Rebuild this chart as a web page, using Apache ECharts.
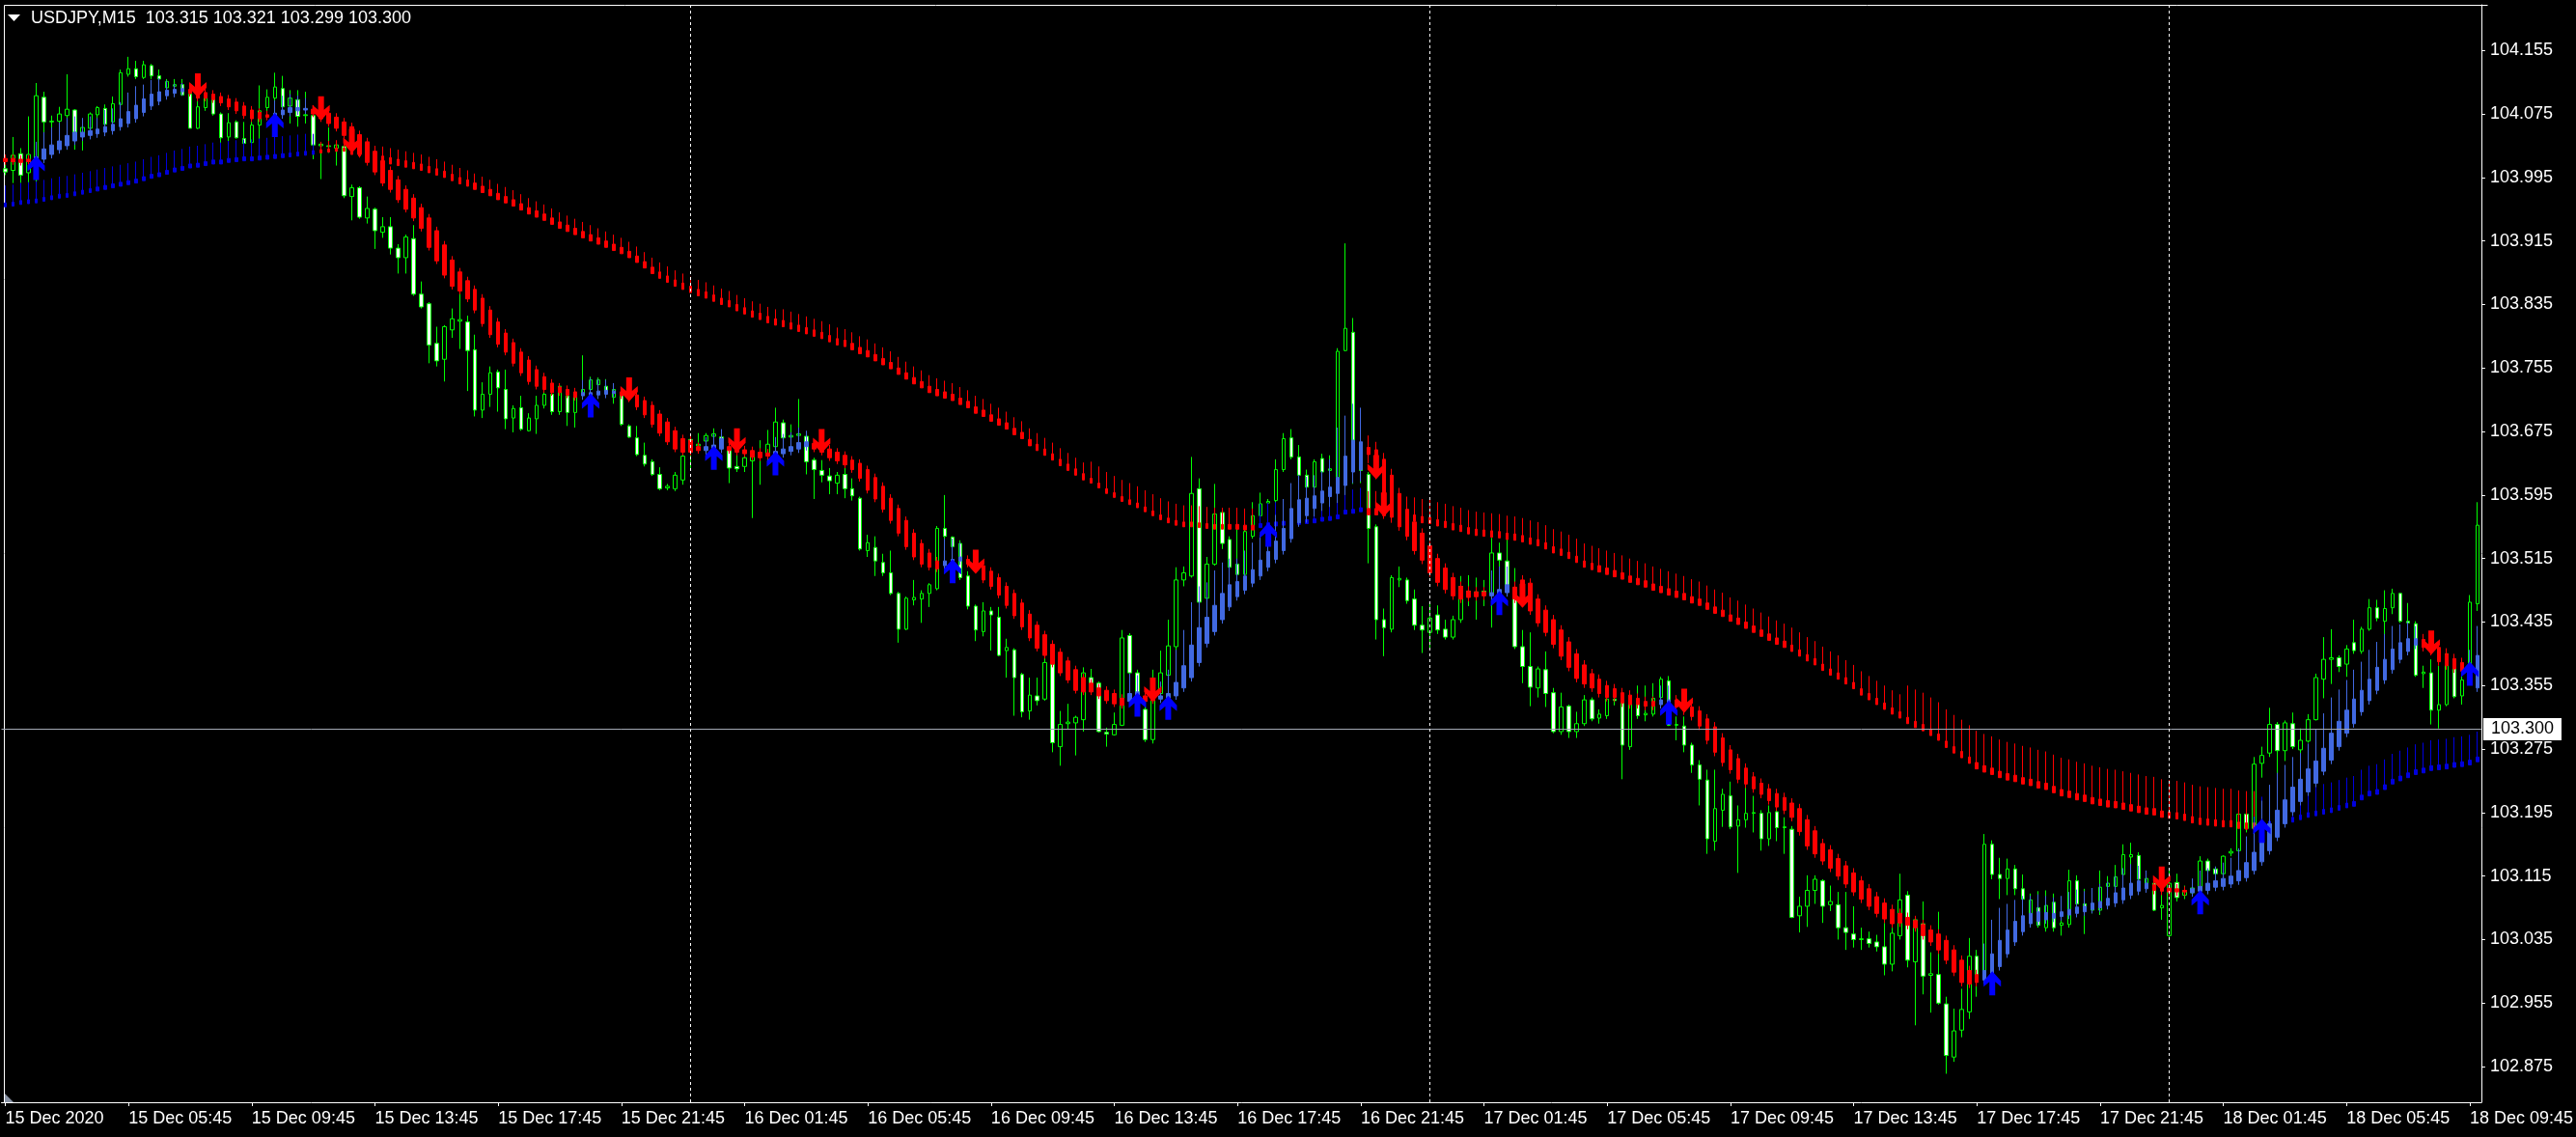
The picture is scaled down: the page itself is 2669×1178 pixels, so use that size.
<!DOCTYPE html>
<html><head><meta charset="utf-8">
<script src="https://cdn.jsdelivr.net/npm/echarts@6/dist/echarts.min.js"></script>
<style>html,body{margin:0;padding:0;background:#000;overflow:hidden}#c{width:2669px;height:1178px}</style>
</head><body><div id="c"></div>
<script>
// ---------------- DATA ----------------
const symbolName = 'USDJPY,M15';
const titleQuote = '103.315 103.321 103.299 103.300';
const bidPrice = 103.300;
const priceTicks = [102.875,102.955,103.035,103.115,103.195,103.275,103.355,103.435,103.515,103.595,103.675,103.755,103.835,103.915,103.995,104.075,104.155];
const xTickLabels = ['15 Dec 2020','15 Dec 05:45','15 Dec 09:45','15 Dec 13:45','15 Dec 17:45','15 Dec 21:45','16 Dec 01:45','16 Dec 05:45','16 Dec 09:45','16 Dec 13:45','16 Dec 17:45','16 Dec 21:45','17 Dec 01:45','17 Dec 05:45','17 Dec 09:45','17 Dec 13:45','17 Dec 17:45','17 Dec 21:45','18 Dec 01:45','18 Dec 05:45','18 Dec 09:45'];
const daySeparators = ['16 Dec 00:00','17 Dec 00:00','18 Dec 00:00'];

// price bars: [open, high, low, close], M15 from 15 Dec 01:45
const candles = [
[104.006,104.012,103.998,104.002],[104.004,104.046,103.988,104.023],[104.025,104.032,103.988,103.998],[104.001,104.072,103.986,104.024],[104.016,104.114,103.980,104.098],
[104.096,104.103,104.048,104.065],[104.065,104.073,104.048,104.066],[104.066,104.084,104.063,104.075],[104.073,104.125,104.030,104.081],[104.080,104.081,104.030,104.052],
[104.050,104.065,104.029,104.058],[104.057,104.077,104.048,104.075],[104.074,104.085,104.052,104.083],[104.082,104.087,104.052,104.062],[104.065,104.097,104.063,104.088],
[104.087,104.131,104.085,104.127],[104.125,104.147,104.122,104.132],[104.132,104.142,104.119,104.122],[104.121,104.142,104.119,104.137],[104.136,104.138,104.119,104.123],
[104.123,104.131,104.113,104.119],[104.108,104.119,104.105,104.116],[104.110,104.119,104.101,104.112],[104.112,104.119,104.098,104.099],[104.100,104.103,104.057,104.057],
[104.057,104.101,104.056,104.084],[104.083,104.103,104.079,104.095],[104.095,104.103,104.073,104.075],[104.075,104.077,104.036,104.045],[104.046,104.076,104.041,104.064],
[104.065,104.067,104.044,104.045],[104.044,104.065,104.036,104.038],[104.039,104.066,104.036,104.061],[104.061,104.111,104.040,104.079],[104.083,104.106,104.073,104.096],
[104.095,104.127,104.075,104.109],[104.107,104.123,104.069,104.084],[104.085,104.105,104.063,104.095],[104.093,104.105,104.059,104.072],[104.073,104.103,104.063,104.074],
[104.073,104.075,104.018,104.036],[104.035,104.038,103.993,104.037],[104.034,104.058,104.026,104.035],[104.032,104.040,104.010,104.036],[104.034,104.036,103.969,103.972],
[103.971,103.986,103.941,103.982],[103.982,103.984,103.943,103.945],[103.944,103.971,103.937,103.956],[103.955,103.957,103.905,103.928],[103.926,103.945,103.919,103.933],
[103.933,103.945,103.898,103.906],[103.906,103.911,103.874,103.894],[103.894,103.923,103.874,103.920],[103.918,103.935,103.846,103.848],[103.848,103.864,103.830,103.832],
[103.836,103.838,103.761,103.784],[103.786,103.807,103.757,103.764],[103.766,103.809,103.738,103.807],[103.803,103.830,103.793,103.817],[103.814,103.850,103.779,103.816],
[103.813,103.821,103.726,103.777],[103.778,103.797,103.694,103.702],[103.702,103.737,103.692,103.722],[103.722,103.757,103.706,103.749],[103.750,103.753,103.700,103.730],
[103.728,103.753,103.678,103.691],[103.692,103.708,103.674,103.704],[103.705,103.720,103.676,103.678],[103.676,103.698,103.675,103.692],[103.691,103.720,103.672,103.708],
[103.708,103.728,103.704,103.722],[103.722,103.734,103.696,103.700],[103.700,103.734,103.696,103.732],[103.720,103.732,103.682,103.699],[103.699,103.728,103.680,103.724],
[103.721,103.771,103.720,103.728],[103.728,103.744,103.720,103.740],[103.734,103.743,103.731,103.740],[103.732,103.741,103.720,103.724],[103.718,103.732,103.710,103.728],
[103.724,103.726,103.682,103.684],[103.682,103.684,103.667,103.668],[103.667,103.682,103.644,103.646],[103.645,103.661,103.631,103.634],[103.637,103.640,103.619,103.621],
[103.621,103.630,103.601,103.603],[103.604,103.609,103.601,103.606],[103.603,103.624,103.600,103.620],[103.614,103.647,103.608,103.644],[103.665,103.666,103.629,103.660],
[103.657,103.673,103.652,103.659],[103.663,103.673,103.647,103.670],[103.669,103.679,103.655,103.672],[103.668,103.671,103.652,103.655],[103.653,103.664,103.610,103.629],
[103.631,103.649,103.624,103.628],[103.631,103.647,103.624,103.642],[103.638,103.653,103.566,103.644],[103.644,103.664,103.608,103.646],[103.645,103.677,103.634,103.659],
[103.656,103.705,103.653,103.687],[103.686,103.690,103.653,103.667],[103.668,103.684,103.655,103.670],[103.670,103.716,103.660,103.672],[103.669,103.673,103.621,103.637],
[103.639,103.642,103.590,103.627],[103.626,103.639,103.611,103.620],[103.619,103.629,103.596,103.613],[103.610,103.624,103.596,103.620],[103.621,103.629,103.591,103.603],
[103.603,103.616,103.588,103.594],[103.591,103.593,103.525,103.527],[103.525,103.545,103.517,103.535],[103.529,103.543,103.493,103.512],[103.510,103.521,103.493,103.497],
[103.497,103.525,103.469,103.471],[103.471,103.473,103.409,103.426],[103.426,103.467,103.425,103.465],[103.463,103.488,103.456,103.466],[103.464,103.475,103.434,103.471],
[103.471,103.484,103.454,103.482],[103.477,103.556,103.475,103.553],[103.553,103.595,103.521,103.543],[103.542,103.543,103.508,103.530],[103.534,103.538,103.488,103.491],
[103.493,103.499,103.451,103.455],[103.455,103.457,103.411,103.425],[103.423,103.460,103.417,103.449],[103.449,103.454,103.399,103.444],[103.441,103.454,103.392,103.393],
[103.399,103.414,103.365,103.403],[103.400,103.402,103.317,103.365],[103.369,103.371,103.315,103.322],[103.323,103.365,103.312,103.343],[103.342,103.365,103.330,103.336],
[103.338,103.393,103.336,103.384],[103.382,103.388,103.271,103.283],[103.278,103.323,103.254,103.306],[103.307,103.332,103.300,103.309],[103.308,103.317,103.267,103.315],
[103.312,103.378,103.297,103.371],[103.365,103.376,103.347,103.355],[103.358,103.360,103.296,103.297],[103.296,103.302,103.278,103.294],[103.293,103.321,103.292,103.306],
[103.305,103.425,103.304,103.415],[103.418,103.421,103.369,103.371],[103.371,103.375,103.322,103.326],[103.325,103.330,103.284,103.287],[103.287,103.375,103.282,103.345],
[103.345,103.399,103.338,103.371],[103.368,103.438,103.360,103.405],[103.404,103.504,103.347,103.488],[103.488,103.505,103.480,103.497],[103.493,103.643,103.491,103.597],
[103.603,103.616,103.456,103.460],[103.465,103.517,103.460,103.508],[103.508,103.609,103.506,103.571],[103.573,103.577,103.527,103.534],[103.539,103.543,103.502,103.504],
[103.508,103.556,103.493,103.495],[103.495,103.556,103.493,103.549],[103.543,103.586,103.540,103.569],[103.569,103.598,103.567,103.584],[103.585,103.590,103.577,103.587],
[103.588,103.640,103.576,103.627],[103.627,103.673,103.624,103.666],[103.667,103.678,103.640,103.643],[103.643,103.658,103.612,103.620],[103.620,103.627,103.603,103.605],
[103.605,103.640,103.603,103.637],[103.641,103.647,103.621,103.624],[103.626,103.645,103.609,103.628],[103.617,103.780,103.615,103.776],[103.777,103.912,103.776,103.805],
[103.800,103.818,103.609,103.664],[103.643,103.652,103.610,103.626],[103.621,103.624,103.509,103.553],[103.555,103.558,103.413,103.438],[103.438,103.452,103.392,103.428],
[103.426,103.494,103.422,103.491],[103.488,103.505,103.479,103.490],[103.488,103.491,103.458,103.462],[103.464,103.476,103.425,103.431],[103.431,103.455,103.396,103.425],
[103.422,103.461,103.401,103.440],[103.444,103.456,103.420,103.425],[103.426,103.438,103.413,103.416],[103.416,103.443,103.413,103.438],[103.438,103.493,103.434,103.480],
[103.474,103.494,103.455,103.471],[103.468,103.491,103.438,103.473],[103.474,103.488,103.455,103.470],[103.470,103.541,103.428,103.522],[103.522,103.535,103.500,103.513],
[103.512,103.540,103.470,103.476],[103.478,103.503,103.401,103.404],[103.404,103.425,103.358,103.379],[103.379,103.422,103.329,103.353],[103.352,103.379,103.340,103.376],
[103.375,103.398,103.328,103.345],[103.346,103.352,103.295,103.297],[103.297,103.346,103.293,103.328],[103.329,103.331,103.289,103.297],[103.297,103.322,103.289,103.307],
[103.307,103.343,103.304,103.337],[103.337,103.340,103.310,103.313],[103.314,103.325,103.307,103.319],[103.317,103.340,103.313,103.338],[103.338,103.352,103.330,103.336],
[103.337,103.343,103.237,103.280],[103.278,103.337,103.274,103.334],[103.332,103.355,103.313,103.317],[103.318,103.355,103.310,103.320],[103.319,103.358,103.316,103.339],
[103.340,103.366,103.334,103.363],[103.361,103.367,103.304,103.305],[103.305,103.316,103.286,103.306],[103.304,103.316,103.271,103.280],[103.280,103.283,103.245,103.255],
[103.255,103.261,103.204,103.237],[103.236,103.249,103.143,103.162],[103.159,103.249,103.147,103.200],[103.198,103.225,103.177,103.218],[103.216,103.234,103.174,103.177],
[103.178,103.204,103.119,103.186],[103.186,103.237,103.176,103.194],[103.194,103.216,103.170,103.195],[103.194,103.198,103.147,103.162],[103.162,103.204,103.153,103.195],
[103.196,103.207,103.159,103.176],[103.176,103.189,103.143,103.177],[103.174,103.178,103.062,103.063],[103.065,103.089,103.044,103.077],[103.077,103.116,103.051,103.097],
[103.097,103.116,103.080,103.111],[103.109,103.111,103.056,103.077],[103.079,103.103,103.071,103.083],[103.079,103.095,103.035,103.050],[103.050,103.095,103.022,103.044],
[103.042,103.077,103.025,103.035],[103.035,103.050,103.022,103.036],[103.036,103.045,103.025,103.030],[103.032,103.041,103.020,103.026],[103.026,103.056,102.990,103.004],
[103.004,103.050,102.995,103.043],[103.040,103.118,103.035,103.085],[103.091,103.096,103.000,103.009],[103.007,103.063,102.927,103.060],[103.055,103.083,102.966,102.989],
[102.990,103.019,102.943,102.992],[102.991,103.070,102.953,102.955],[102.954,102.963,102.866,102.889],[102.887,102.948,102.881,102.920],[102.921,102.973,102.912,102.947],
[102.944,103.037,102.935,103.014],[103.014,103.022,102.963,102.990],[102.990,103.168,102.985,103.155],[103.155,103.160,103.111,103.117],[103.117,103.138,103.086,103.112],
[103.112,103.137,103.091,103.124],[103.124,103.129,103.091,103.099],[103.099,103.117,103.070,103.086],[103.066,103.093,103.061,103.085],[103.075,103.096,103.050,103.053],
[103.050,103.097,103.045,103.078],[103.082,103.093,103.045,103.050],[103.053,103.070,103.040,103.056],[103.054,103.123,103.050,103.109],[103.109,103.116,103.076,103.080],
[103.080,103.099,103.042,103.075],[103.072,103.091,103.068,103.080],[103.072,103.122,103.066,103.101],[103.102,103.115,103.080,103.106],[103.102,103.129,103.091,103.114],
[103.117,103.155,103.110,103.142],[103.139,103.157,103.117,103.142],[103.141,103.145,103.106,103.111],[103.106,103.122,103.101,103.112],[103.106,103.109,103.071,103.072],
[103.075,103.096,103.060,103.078],[103.040,103.122,103.037,103.106],[103.107,103.118,103.083,103.088],[103.091,103.103,103.086,103.097],[103.094,103.110,103.090,103.100],
[103.099,103.140,103.096,103.134],[103.134,103.137,103.119,103.122],[103.124,103.127,103.116,103.118],[103.118,103.141,103.116,103.140],[103.144,103.150,103.140,103.146],
[103.147,103.196,103.127,103.193],[103.193,103.196,103.170,103.175],[103.175,103.265,103.168,103.256],[103.257,103.278,103.239,103.267],[103.270,103.327,103.265,103.306],
[103.306,103.309,103.237,103.273],[103.273,103.311,103.260,103.308],[103.307,103.321,103.275,103.278],[103.274,103.301,103.265,103.286],[103.285,103.319,103.283,103.312],
[103.312,103.370,103.311,103.365],[103.363,103.416,103.339,103.388],[103.388,103.426,103.357,103.390],[103.390,103.393,103.372,103.379],[103.382,103.406,103.366,103.401],
[103.409,103.438,103.395,103.399],[103.398,103.429,103.395,103.426],[103.426,103.464,103.424,103.453],[103.453,103.463,103.436,103.440],[103.436,103.475,103.416,103.452],
[103.453,103.477,103.445,103.471],[103.471,103.472,103.434,103.436],[103.436,103.459,103.431,103.434],[103.433,103.436,103.366,103.368],[103.370,103.380,103.352,103.372],
[103.371,103.388,103.306,103.324],[103.324,103.380,103.301,103.331],[103.331,103.398,103.329,103.395],[103.377,103.383,103.339,103.341],[103.342,103.367,103.331,103.362],
[103.362,103.469,103.360,103.460],[103.458,103.586,103.449,103.557]
];

// fast trend bars: [open, close] (close>open = up/blue, close<open = down/red)
const fastBars = [
[104.019,104.015],[104.019,104.015],[104.018,104.014],[104.018,104.015],[104.014,104.021],[104.018,104.031],[104.024,104.036],[104.030,104.041],[104.035,104.048],[104.041,104.052],
[104.046,104.052],[104.048,104.054],[104.050,104.056],[104.052,104.059],[104.054,104.062],[104.059,104.069],[104.063,104.078],[104.069,104.086],[104.077,104.094],[104.085,104.100],
[104.091,104.103],[104.098,104.105],[104.101,104.106],[104.103,104.107],[104.106,104.101],[104.103,104.095],[104.102,104.095],[104.100,104.093],[104.097,104.089],[104.094,104.084],
[104.090,104.079],[104.085,104.073],[104.080,104.069],[104.077,104.069],[104.074,104.071],[104.071,104.076],[104.074,104.080],[104.077,104.083],[104.079,104.083],[104.080,104.082],
[104.081,104.075],[104.079,104.069],[104.076,104.063],[104.071,104.057],[104.065,104.048],[104.059,104.034],[104.049,104.024],[104.040,104.014],[104.028,104.002],[104.016,103.988],
[104.004,103.980],[103.992,103.967],[103.980,103.955],[103.969,103.944],[103.957,103.931],[103.944,103.907],[103.928,103.890],[103.910,103.872],[103.891,103.858],[103.876,103.852],
[103.865,103.842],[103.854,103.828],[103.843,103.811],[103.828,103.797],[103.813,103.785],[103.799,103.775],[103.787,103.761],[103.775,103.749],[103.765,103.738],[103.753,103.732],
[103.744,103.728],[103.736,103.724],[103.731,103.724],[103.728,103.721],[103.725,103.718],[103.720,103.724],[103.720,103.724],[103.721,103.726],[103.722,103.727],[103.723,103.726],
[103.725,103.720],[103.724,103.716],[103.721,103.706],[103.714,103.696],[103.708,103.684],[103.697,103.673],[103.687,103.662],[103.676,103.653],[103.666,103.649],[103.664,103.649],
[103.656,103.651],[103.651,103.656],[103.652,103.658],[103.653,103.666],[103.656,103.651],[103.653,103.649],[103.652,103.647],[103.651,103.643],[103.649,103.642],[103.648,103.644],
[103.646,103.650],[103.647,103.653],[103.650,103.656],[103.653,103.661],[103.656,103.662],[103.660,103.653],[103.658,103.649],[103.653,103.642],[103.649,103.638],[103.645,103.633],
[103.639,103.627],[103.635,103.616],[103.627,103.601],[103.617,103.590],[103.606,103.577],[103.591,103.563],[103.578,103.547],[103.563,103.530],[103.547,103.517],[103.534,103.508],
[103.522,103.504],[103.512,103.502],[103.506,103.512],[103.508,103.514],[103.512,103.517],[103.514,103.508],[103.512,103.501],[103.506,103.488],[103.499,103.480],[103.491,103.469],
[103.480,103.456],[103.471,103.443],[103.459,103.429],[103.445,103.415],[103.431,103.402],[103.419,103.393],[103.407,103.382],[103.397,103.371],[103.386,103.362],[103.375,103.349],
[103.365,103.347],[103.358,103.347],[103.352,103.342],[103.349,103.336],[103.345,103.332],[103.339,103.330],[103.335,103.345],[103.336,103.347],[103.342,103.335],[103.342,103.336],
[103.338,103.342],[103.339,103.345],[103.342,103.359],[103.352,103.380],[103.365,103.406],[103.384,103.428],[103.408,103.441],[103.423,103.456],[103.438,103.471],[103.454,103.482],
[103.467,103.486],[103.475,103.493],[103.484,103.501],[103.493,103.513],[103.504,103.524],[103.514,103.537],[103.525,103.553],[103.540,103.578],[103.560,103.589],[103.569,103.591],
[103.578,103.594],[103.585,103.600],[103.593,103.605],[103.597,103.617],[103.607,103.644],[103.624,103.664],[103.627,103.662],[103.655,103.646],[103.652,103.624],[103.640,103.573],
[103.620,103.567],[103.597,103.555],[103.577,103.543],[103.561,103.525],[103.547,103.513],[103.531,103.497],[103.515,103.485],[103.503,103.476],[103.491,103.468],[103.480,103.464],
[103.474,103.466],[103.473,103.467],[103.473,103.468],[103.468,103.472],[103.467,103.476],[103.472,103.482],[103.479,103.464],[103.488,103.461],[103.484,103.449],[103.464,103.434],
[103.450,103.422],[103.438,103.407],[103.425,103.392],[103.410,103.378],[103.395,103.364],[103.381,103.357],[103.370,103.352],[103.363,103.345],[103.355,103.340],[103.351,103.340],
[103.346,103.333],[103.343,103.331],[103.339,103.331],[103.335,103.329],[103.335,103.329],[103.331,103.337],[103.333,103.337],[103.337,103.328],[103.334,103.323],[103.328,103.316],
[103.323,103.304],[103.313,103.286],[103.303,103.271],[103.289,103.258],[103.274,103.249],[103.263,103.237],[103.251,103.231],[103.240,103.225],[103.232,103.218],[103.225,103.210],
[103.219,103.202],[103.214,103.198],[103.207,103.189],[103.200,103.171],[103.186,103.153],[103.172,103.143],[103.156,103.134],[103.148,103.125],[103.137,103.115],[103.128,103.105],
[103.119,103.095],[103.109,103.086],[103.099,103.077],[103.089,103.068],[103.081,103.061],[103.073,103.055],[103.068,103.056],[103.063,103.053],[103.059,103.050],[103.054,103.040],
[103.047,103.032],[103.042,103.022],[103.034,103.009],[103.022,102.994],[103.009,102.981],[102.996,102.979],[102.991,102.981],[102.984,102.996],[102.989,103.017],[103.001,103.034],
[103.017,103.047],[103.032,103.058],[103.045,103.065],[103.055,103.068],[103.058,103.070],[103.060,103.069],[103.062,103.068],[103.064,103.070],[103.066,103.073],[103.068,103.076],
[103.070,103.077],[103.073,103.081],[103.075,103.083],[103.078,103.087],[103.081,103.094],[103.085,103.100],[103.091,103.106],[103.096,103.109],[103.099,103.106],[103.104,103.097],
[103.101,103.096],[103.100,103.095],[103.099,103.095],[103.097,103.095],[103.094,103.099],[103.096,103.102],[103.097,103.106],[103.101,103.109],[103.102,103.112],[103.105,103.115],
[103.109,103.122],[103.113,103.132],[103.122,103.145],[103.133,103.160],[103.147,103.181],[103.164,103.198],[103.181,103.211],[103.196,103.227],[103.209,103.237],[103.221,103.250],
[103.232,103.260],[103.247,103.276],[103.261,103.295],[103.278,103.310],[103.295,103.324],[103.307,103.338],[103.322,103.349],[103.336,103.363],[103.349,103.378],[103.362,103.388],
[103.375,103.401],[103.388,103.409],[103.398,103.414],[103.406,103.414],[103.413,103.403],[103.408,103.398],[103.403,103.385],[103.395,103.380],[103.389,103.376],[103.384,103.373],
[103.362,103.377],[103.352,103.393]
];
// fast trend wicks: [low, high]
const fastWicks = [
[104.011,104.024],[104.011,104.024],[104.010,104.023],[104.011,104.023],[104.009,104.040],[104.013,104.052],[104.019,104.058],[104.025,104.064],[104.030,104.070],[104.036,104.072],
[104.041,104.070],[104.043,104.072],[104.045,104.070],[104.047,104.080],[104.049,104.082],[104.054,104.090],[104.058,104.102],[104.064,104.110],[104.072,104.112],[104.080,104.118],
[104.086,104.120],[104.093,104.117],[104.096,104.113],[104.098,104.114],[104.097,104.111],[104.091,104.108],[104.091,104.107],[104.089,104.105],[104.085,104.102],[104.080,104.099],
[104.075,104.095],[104.069,104.090],[104.065,104.085],[104.065,104.082],[104.067,104.079],[104.066,104.092],[104.069,104.098],[104.072,104.100],[104.074,104.098],[104.075,104.095],
[104.071,104.086],[104.065,104.084],[104.059,104.081],[104.053,104.076],[104.044,104.070],[104.030,104.064],[104.020,104.054],[104.010,104.045],[103.998,104.033],[103.984,104.021],
[103.976,104.009],[103.963,103.997],[103.951,103.985],[103.940,103.974],[103.927,103.962],[103.903,103.949],[103.886,103.933],[103.868,103.915],[103.854,103.896],[103.848,103.881],
[103.838,103.870],[103.824,103.859],[103.807,103.848],[103.793,103.833],[103.781,103.818],[103.771,103.804],[103.757,103.792],[103.745,103.780],[103.734,103.770],[103.728,103.758],
[103.724,103.749],[103.720,103.741],[103.720,103.736],[103.717,103.733],[103.714,103.730],[103.715,103.740],[103.715,103.742],[103.716,103.741],[103.717,103.740],[103.718,103.736],
[103.716,103.730],[103.712,103.729],[103.702,103.726],[103.692,103.719],[103.680,103.713],[103.669,103.702],[103.658,103.692],[103.649,103.681],[103.645,103.671],[103.645,103.669],
[103.647,103.661],[103.646,103.668],[103.647,103.672],[103.648,103.678],[103.647,103.661],[103.645,103.658],[103.643,103.657],[103.639,103.656],[103.638,103.654],[103.640,103.653],
[103.641,103.668],[103.642,103.672],[103.645,103.674],[103.648,103.680],[103.651,103.676],[103.649,103.665],[103.645,103.663],[103.638,103.658],[103.634,103.654],[103.629,103.650],
[103.623,103.644],[103.612,103.640],[103.597,103.632],[103.586,103.622],[103.573,103.611],[103.559,103.596],[103.543,103.583],[103.526,103.568],[103.513,103.552],[103.504,103.539],
[103.500,103.527],[103.498,103.517],[103.501,103.540],[103.503,103.540],[103.507,103.535],[103.504,103.519],[103.497,103.517],[103.484,103.511],[103.476,103.504],[103.465,103.496],
[103.452,103.485],[103.439,103.476],[103.425,103.464],[103.411,103.450],[103.398,103.436],[103.389,103.424],[103.378,103.412],[103.367,103.402],[103.358,103.391],[103.345,103.380],
[103.343,103.370],[103.343,103.363],[103.338,103.357],[103.332,103.354],[103.328,103.350],[103.326,103.344],[103.330,103.370],[103.331,103.368],[103.331,103.347],[103.332,103.347],
[103.333,103.360],[103.334,103.375],[103.337,103.400],[103.347,103.425],[103.360,103.460],[103.379,103.480],[103.403,103.485],[103.418,103.500],[103.433,103.510],[103.449,103.515],
[103.462,103.515],[103.470,103.525],[103.479,103.535],[103.488,103.545],[103.499,103.555],[103.509,103.570],[103.520,103.590],[103.535,103.610],[103.555,103.620],[103.560,103.618],
[103.568,103.620],[103.575,103.625],[103.580,103.640],[103.585,103.680],[103.595,103.695],[103.610,103.710],[103.612,103.705],[103.635,103.670],[103.615,103.662],[103.565,103.648],
[103.560,103.628],[103.550,103.604],[103.538,103.583],[103.520,103.567],[103.508,103.553],[103.492,103.537],[103.480,103.521],[103.471,103.509],[103.463,103.497],[103.459,103.486],
[103.461,103.480],[103.462,103.479],[103.463,103.479],[103.463,103.500],[103.462,103.505],[103.467,103.505],[103.459,103.486],[103.456,103.494],[103.444,103.490],[103.429,103.470],
[103.417,103.456],[103.402,103.444],[103.387,103.431],[103.373,103.416],[103.359,103.401],[103.352,103.387],[103.347,103.376],[103.340,103.369],[103.335,103.361],[103.335,103.357],
[103.328,103.352],[103.326,103.349],[103.326,103.345],[103.324,103.341],[103.324,103.341],[103.326,103.355],[103.328,103.355],[103.323,103.343],[103.318,103.340],[103.311,103.334],
[103.299,103.329],[103.281,103.319],[103.266,103.309],[103.253,103.295],[103.244,103.280],[103.232,103.269],[103.226,103.257],[103.220,103.246],[103.213,103.238],[103.205,103.231],
[103.197,103.225],[103.193,103.220],[103.184,103.213],[103.166,103.206],[103.148,103.192],[103.138,103.178],[103.129,103.162],[103.120,103.154],[103.110,103.143],[103.100,103.134],
[103.090,103.125],[103.081,103.115],[103.072,103.105],[103.063,103.095],[103.056,103.087],[103.050,103.079],[103.051,103.074],[103.048,103.069],[103.045,103.065],[103.035,103.060],
[103.027,103.053],[103.017,103.048],[103.004,103.040],[102.989,103.028],[102.976,103.015],[102.974,103.002],[102.976,102.997],[102.979,103.030],[102.984,103.060],[102.996,103.075],
[103.012,103.080],[103.027,103.085],[103.040,103.090],[103.050,103.090],[103.053,103.092],[103.055,103.090],[103.057,103.088],[103.059,103.090],[103.061,103.095],[103.063,103.098],
[103.065,103.096],[103.068,103.100],[103.070,103.105],[103.073,103.108],[103.076,103.115],[103.080,103.125],[103.086,103.130],[103.091,103.128],[103.094,103.122],[103.092,103.110],
[103.091,103.106],[103.090,103.106],[103.090,103.105],[103.090,103.102],[103.089,103.112],[103.091,103.122],[103.092,103.125],[103.096,103.127],[103.097,103.132],[103.100,103.138],
[103.104,103.150],[103.108,103.165],[103.117,103.190],[103.128,103.210],[103.142,103.230],[103.159,103.245],[103.176,103.255],[103.191,103.265],[103.204,103.270],[103.216,103.282],
[103.227,103.300],[103.242,103.320],[103.256,103.340],[103.273,103.350],[103.290,103.362],[103.302,103.375],[103.317,103.385],[103.331,103.400],[103.344,103.410],[103.357,103.420],
[103.370,103.430],[103.383,103.432],[103.393,103.435],[103.401,103.430],[103.398,103.420],[103.393,103.415],[103.380,103.410],[103.375,103.402],[103.371,103.395],[103.368,103.390],
[103.357,103.400],[103.347,103.430]
];

// slow trend bars: [bodyLow, bodyHigh, wickHigh]
const slowBars = [
[103.958,103.963,103.985],[103.959,103.964,103.986],[103.961,103.966,103.988],[103.962,103.967,103.989],[103.963,103.968,103.990],[103.965,103.970,103.992],[103.967,103.972,103.994],[103.969,103.974,103.996],[103.970,103.975,103.997],[103.972,103.977,103.999],
[103.974,103.979,104.001],[103.976,103.981,104.003],[103.978,103.983,104.005],[103.980,103.985,104.007],[103.982,103.987,104.009],[103.984,103.989,104.011],[103.986,103.991,104.013],[103.988,103.993,104.015],[103.991,103.996,104.018],[103.994,103.999,104.021],
[103.996,104.001,104.023],[103.999,104.004,104.026],[104.002,104.007,104.029],[104.004,104.009,104.031],[104.007,104.012,104.034],[104.008,104.013,104.035],[104.010,104.015,104.037],[104.012,104.017,104.039],[104.012,104.017,104.039],[104.014,104.019,104.041],
[104.015,104.020,104.042],[104.016,104.021,104.043],[104.016,104.021,104.043],[104.017,104.022,104.044],[104.018,104.023,104.045],[104.019,104.024,104.046],[104.020,104.025,104.047],[104.021,104.026,104.048],[104.022,104.027,104.049],[104.023,104.028,104.050],
[104.024,104.029,104.050],[104.026,104.030,104.040],[104.027,104.031,104.041],[104.028,104.032,104.042],[104.028,104.032,104.043],[104.024,104.032,104.044],[104.022,104.030,104.042],[104.018,104.026,104.038],[104.015,104.023,104.035],[104.014,104.022,104.034],
[104.012,104.020,104.032],[104.010,104.018,104.030],[104.008,104.016,104.028],[104.006,104.014,104.026],[104.004,104.012,104.024],[104.001,104.009,104.021],[103.998,104.006,104.018],[103.995,104.003,104.015],[103.991,103.999,104.011],[103.987,103.995,104.007],
[103.984,103.992,104.004],[103.980,103.988,104.000],[103.976,103.984,103.996],[103.972,103.980,103.992],[103.967,103.975,103.987],[103.963,103.971,103.983],[103.959,103.967,103.979],[103.954,103.962,103.974],[103.949,103.957,103.969],[103.945,103.953,103.965],
[103.941,103.949,103.961],[103.936,103.944,103.956],[103.931,103.939,103.951],[103.927,103.935,103.947],[103.923,103.931,103.943],[103.919,103.927,103.939],[103.915,103.923,103.935],[103.911,103.919,103.931],[103.907,103.915,103.927],[103.903,103.911,103.923],
[103.899,103.907,103.919],[103.894,103.902,103.914],[103.888,103.896,103.908],[103.881,103.889,103.901],[103.874,103.882,103.894],[103.868,103.876,103.888],[103.863,103.871,103.883],[103.858,103.866,103.878],[103.854,103.862,103.874],[103.850,103.858,103.870],
[103.846,103.854,103.866],[103.843,103.851,103.863],[103.839,103.847,103.859],[103.835,103.843,103.855],[103.832,103.840,103.852],[103.827,103.835,103.847],[103.823,103.831,103.843],[103.819,103.827,103.839],[103.816,103.824,103.836],[103.812,103.820,103.832],
[103.809,103.817,103.829],[103.807,103.815,103.829],[103.804,103.812,103.826],[103.801,103.809,103.823],[103.798,103.806,103.820],[103.795,103.803,103.817],[103.792,103.800,103.814],[103.788,103.796,103.810],[103.784,103.792,103.806],[103.782,103.790,103.804],
[103.778,103.786,103.800],[103.773,103.781,103.795],[103.769,103.777,103.791],[103.764,103.772,103.786],[103.759,103.767,103.781],[103.754,103.762,103.776],[103.747,103.755,103.769],[103.741,103.749,103.763],[103.735,103.743,103.757],[103.730,103.738,103.752],
[103.724,103.732,103.746],[103.720,103.728,103.742],[103.717,103.725,103.739],[103.714,103.722,103.736],[103.709,103.717,103.731],[103.705,103.713,103.727],[103.698,103.706,103.720],[103.694,103.702,103.716],[103.688,103.696,103.710],[103.683,103.691,103.705],
[103.678,103.686,103.700],[103.671,103.679,103.693],[103.666,103.674,103.688],[103.657,103.665,103.679],[103.651,103.659,103.673],[103.645,103.653,103.667],[103.639,103.647,103.661],[103.632,103.640,103.654],[103.626,103.634,103.648],[103.620,103.628,103.642],
[103.614,103.622,103.636],[103.610,103.616,103.637],[103.604,103.610,103.631],[103.597,103.603,103.624],[103.592,103.598,103.619],[103.587,103.593,103.614],[103.583,103.589,103.610],[103.579,103.585,103.606],[103.574,103.580,103.601],[103.569,103.575,103.596],
[103.564,103.570,103.591],[103.560,103.566,103.587],[103.557,103.563,103.584],[103.555,103.561,103.582],[103.555,103.561,103.582],[103.554,103.560,103.581],[103.553,103.559,103.580],[103.552,103.558,103.579],[103.552,103.558,103.579],[103.552,103.558,103.579],
[103.552,103.558,103.579],[103.551,103.557,103.578],[103.551,103.557,103.578],[103.554,103.559,103.584],[103.555,103.560,103.585],[103.556,103.561,103.586],[103.557,103.562,103.587],[103.558,103.563,103.588],[103.558,103.563,103.588],[103.559,103.564,103.589],
[103.560,103.565,103.590],[103.562,103.567,103.592],[103.563,103.568,103.593],[103.565,103.570,103.595],[103.571,103.576,103.601],[103.572,103.577,103.602],[103.574,103.579,103.604],[103.570,103.578,103.600],[103.570,103.578,103.600],[103.569,103.577,103.599],
[103.568,103.576,103.598],[103.565,103.573,103.595],[103.563,103.571,103.593],[103.562,103.570,103.592],[103.560,103.568,103.590],[103.559,103.567,103.589],[103.556,103.564,103.586],[103.554,103.562,103.584],[103.551,103.559,103.581],[103.549,103.557,103.579],
[103.546,103.554,103.576],[103.544,103.552,103.574],[103.543,103.551,103.573],[103.542,103.550,103.572],[103.541,103.549,103.571],[103.539,103.547,103.569],[103.538,103.546,103.568],[103.536,103.544,103.566],[103.533,103.541,103.563],[103.531,103.539,103.561],
[103.527,103.535,103.557],[103.522,103.530,103.552],[103.519,103.527,103.549],[103.515,103.523,103.545],[103.510,103.518,103.540],[103.504,103.512,103.534],[103.501,103.509,103.531],[103.498,103.506,103.528],[103.495,103.503,103.525],[103.492,103.500,103.522],
[103.489,103.497,103.519],[103.485,103.493,103.515],[103.482,103.490,103.512],[103.479,103.487,103.509],[103.475,103.483,103.505],[103.472,103.480,103.502],[103.469,103.477,103.499],[103.466,103.474,103.496],[103.463,103.471,103.493],[103.459,103.467,103.489],
[103.456,103.464,103.486],[103.451,103.459,103.481],[103.446,103.454,103.476],[103.442,103.450,103.472],[103.436,103.444,103.466],[103.432,103.440,103.462],[103.427,103.435,103.457],[103.422,103.430,103.452],[103.417,103.425,103.447],[103.412,103.420,103.442],
[103.407,103.415,103.437],[103.403,103.411,103.433],[103.398,103.406,103.428],[103.392,103.400,103.422],[103.386,103.394,103.416],[103.381,103.389,103.411],[103.374,103.382,103.404],[103.368,103.376,103.398],[103.363,103.371,103.393],[103.357,103.365,103.387],
[103.351,103.359,103.381],[103.343,103.351,103.373],[103.337,103.345,103.367],[103.331,103.339,103.361],[103.325,103.333,103.355],[103.319,103.327,103.349],[103.314,103.322,103.344],[103.307,103.315,103.355],[103.302,103.310,103.350],[103.298,103.306,103.346],
[103.292,103.300,103.340],[103.286,103.294,103.334],[103.277,103.285,103.325],[103.270,103.278,103.318],[103.264,103.272,103.312],[103.257,103.265,103.305],[103.250,103.258,103.298],[103.246,103.254,103.294],[103.243,103.251,103.291],[103.239,103.247,103.287],
[103.236,103.244,103.284],[103.234,103.242,103.282],[103.231,103.239,103.279],[103.229,103.237,103.277],[103.226,103.234,103.274],[103.224,103.232,103.272],[103.220,103.228,103.268],[103.216,103.224,103.264],[103.214,103.222,103.262],[103.211,103.219,103.259],
[103.209,103.217,103.257],[103.206,103.214,103.254],[103.204,103.212,103.252],[103.202,103.210,103.250],[103.201,103.209,103.249],[103.199,103.207,103.247],[103.197,103.205,103.245],[103.195,103.203,103.243],[103.193,103.201,103.241],[103.192,103.200,103.240],
[103.189,103.197,103.237],[103.188,103.196,103.236],[103.187,103.195,103.235],[103.185,103.193,103.233],[103.182,103.190,103.230],[103.180,103.188,103.228],[103.179,103.187,103.227],[103.178,103.186,103.226],[103.177,103.185,103.225],[103.177,103.185,103.225],
[103.175,103.183,103.223],[103.174,103.182,103.222],[103.174,103.182,103.222],[103.177,103.183,103.215],[103.178,103.184,103.216],[103.180,103.186,103.218],[103.182,103.188,103.220],[103.183,103.189,103.221],[103.186,103.192,103.224],[103.189,103.195,103.227],
[103.191,103.197,103.229],[103.193,103.199,103.231],[103.195,103.201,103.233],[103.198,103.204,103.236],[103.201,103.207,103.239],[103.203,103.209,103.241],[103.211,103.217,103.249],[103.216,103.222,103.254],[103.218,103.224,103.256],[103.224,103.230,103.262],
[103.231,103.237,103.269],[103.235,103.241,103.273],[103.239,103.245,103.277],[103.243,103.249,103.281],[103.245,103.251,103.283],[103.248,103.254,103.286],[103.249,103.255,103.287],[103.250,103.256,103.288],[103.252,103.258,103.290],[103.253,103.259,103.291],
[103.255,103.261,103.293],[103.259,103.265,103.297]
];
// slow trend direction runs: [firstBar, lastBar, 1 = up / -1 = down]
const slowTrend = [[0,40,1],[41,162,-1],[163,176,1],[177,292,-1],[293,321,1]];

// signal arrows: [bar, price]
const upArrows = [[4,104.007],[35,104.061],[76,103.708],[92,103.642],[100,103.635],[123,103.499],[147,103.331],[151,103.327],[164,103.545],[194,103.459],[216,103.321],[258,102.980],[285,103.082],[293,103.172],[320,103.370]];
const downArrows = [[25,104.111],[41,104.082],[45,104.041],[81,103.728],[95,103.664],[106,103.663],[126,103.511],[149,103.350],[178,103.630],[179,103.583],[197,103.468],[218,103.336],[280,103.112],[315,103.409]];

// ---------------- CHART ----------------
const FONT = 'Liberation Sans, Arial, sans-serif';
const categories = candles.map((_, i) => {
  const m = 105 + 15 * i;
  const day = 15 + Math.floor(m / 1440);
  const mm = m % 1440;
  return day + ' Dec ' + String(Math.floor(mm / 60)).padStart(2, '0') + ':' + String(mm % 60).padStart(2, '0');
});
function slowDir(i) { for (const r of slowTrend) if (i >= r[0] && i <= r[1]) return r[2]; return 1; }

const candleData = candles.map(([o, h, l, c]) => [o, c, l, h]);
const fastData = fastBars.map(([o, c], i) => [o, c, fastWicks[i][0], fastWicks[i][1]]);
const slowData = slowBars.map(([lo, hi, top], i) => slowDir(i) > 0 ? [lo, hi, lo, top] : [hi, lo, lo, top]);

const UP_PATH = 'path://M9,0 L18,10 L18,16 L12,11 L12,25 L6,25 L6,11 L0,16 L0,10 Z';
const DOWN_PATH = 'path://M6,0 L12,0 L12,14 L18,9 L18,15 L9,25 L0,15 L0,9 L6,14 Z';

const chart = echarts.init(document.getElementById('c'), null, { renderer: 'canvas' });
chart.setOption({
  backgroundColor: '#000000',
  animation: false,
  textStyle: { fontFamily: FONT },
  grid: { left: 1.5, right: 91.5, top: 5, bottom: 36, containLabel: false },
  xAxis: {
    type: 'category', data: categories, boundaryGap: true,
    axisLine: { show: true, lineStyle: { color: '#ffffff', width: 1 } },
    axisTick: { show: true, interval: 15, alignWithLabel: true, length: 4, lineStyle: { color: '#ffffff' } },
    axisLabel: { show: true, interval: 15, align: 'left', margin: 8, color: '#ffffff', fontSize: 18, fontFamily: FONT,
      formatter: (v, idx) => xTickLabels[Math.round(idx / 16)] || '' },
    splitLine: { show: false }
  },
  yAxis: {
    type: 'value', position: 'right', min: 102.8301, max: 104.2125, scale: true,
    axisLine: { show: true, lineStyle: { color: '#ffffff', width: 1 } },
    axisTick: { show: true, length: 4, customValues: priceTicks, lineStyle: { color: '#ffffff' } },
    axisLabel: { show: true, customValues: priceTicks, margin: 9, color: '#ffffff', fontSize: 18, fontFamily: FONT,
      formatter: v => Number(v).toFixed(3) },
    splitLine: { show: false }
  },
  series: [
    {
      name: 'price', type: 'candlestick', data: candleData, barWidth: 4, z: 2,
      itemStyle: { color: '#000000', color0: '#ffffff', borderColor: '#00ff00', borderColor0: '#00ff00', borderWidth: 1 },
      markLine: {
        silent: true, symbol: ['none', 'none'], animation: false,
        data: [
          { yAxis: bidPrice, lineStyle: { color: '#a3a9b4', width: 1, type: 'solid' },
            label: { show: true, position: 'end', distance: 2, formatter: bidPrice.toFixed(3), backgroundColor: '#ffffff',
              color: '#000000', fontSize: 18, fontFamily: FONT, padding: [2, 8, 2, 8], lineHeight: 19 } },
          ...daySeparators.map(d => ({ xAxis: d, lineStyle: { color: '#ffffff', width: 1, type: [3, 3] }, label: { show: false } }))
        ]
      }
    },
    {
      name: 'slow', type: 'candlestick', data: slowData, barWidth: 3, z: 3,
      itemStyle: { color: '#0000dd', color0: '#ff0000', borderColor: '#0000dd', borderColor0: '#ff0000', borderWidth: 1 }
    },
    {
      name: 'fast', type: 'candlestick', data: fastData, barWidth: 4, z: 4,
      itemStyle: { color: '#4169e1', color0: '#ff0000', borderColor: '#4169e1', borderColor0: '#ff0000', borderWidth: 1 }
    },
    {
      name: 'buy', type: 'scatter', data: upArrows, symbol: UP_PATH, symbolSize: [18, 25], z: 5,
      itemStyle: { color: '#0000ff', opacity: 1 }
    },
    {
      name: 'sell', type: 'scatter', data: downArrows, symbol: DOWN_PATH, symbolSize: [18, 25], z: 5,
      itemStyle: { color: '#ff0000', opacity: 1 }
    }
  ],
  graphic: [
    { type: 'line', silent: true, shape: { x1: 4.5, y1: 5.5, x2: 2577.5, y2: 5.5 }, style: { stroke: '#ffffff', lineWidth: 1 } },
    { type: 'line', silent: true, shape: { x1: 4.5, y1: 5.5, x2: 4.5, y2: 1142 }, style: { stroke: '#ffffff', lineWidth: 1 } },
    { type: 'polygon', silent: true, shape: { points: [[8, 15], [21, 15], [14.5, 22]] }, style: { fill: '#ffffff' } },
    { type: 'text', silent: true, x: 32, y: 19, style: { text: symbolName + '  ' + titleQuote, fill: '#ffffff', font: '18px ' + FONT, textVerticalAlign: 'middle' } },
    { type: 'polygon', silent: true, shape: { points: [[5, 1133], [5, 1142], [14, 1142]] }, style: { fill: '#8a94a6' } }
  ]
});
</script></body></html>
